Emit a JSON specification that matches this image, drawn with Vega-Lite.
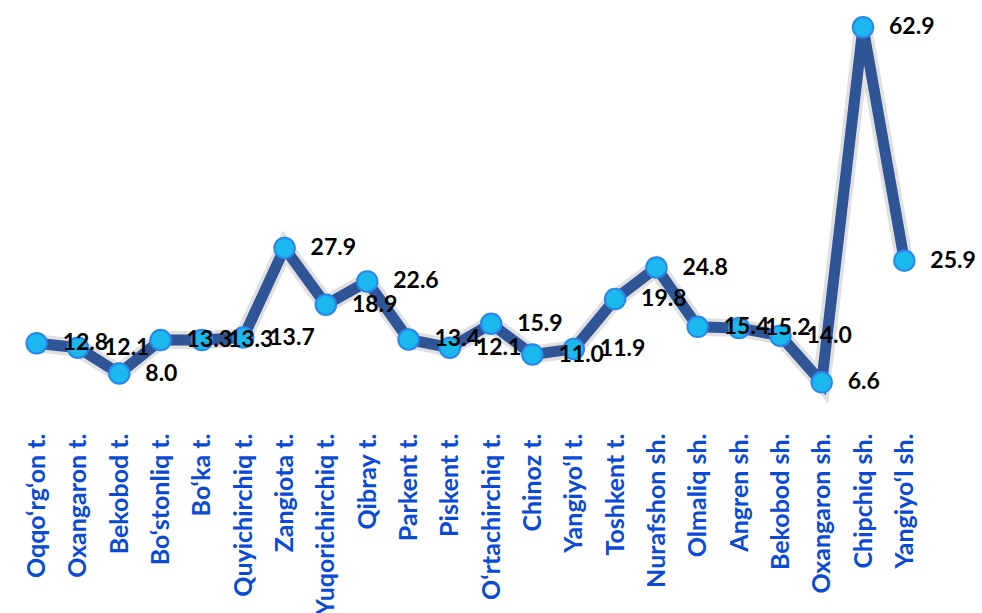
{
  "$schema": "https://vega.github.io/schema/vega-lite/v6.json",
  "autosize": {"type": "none"},
  "padding": {"left": 16, "top": 14, "right": 57, "bottom": 189},
  "width": 909,
  "height": 410,
  "background": "white",
  "config": {"view": {"stroke": null}},
  "data": {"values": [
    {"district": "Oqqo‘rg‘on t.", "value": 12.8},
    {"district": "Oxangaron t.", "value": 12.1},
    {"district": "Bekobod t.", "value": 8.0},
    {"district": "Bo‘stonliq t.", "value": 13.3},
    {"district": "Bo‘ka t.", "value": 13.3},
    {"district": "Quyichirchiq t.", "value": 13.7},
    {"district": "Zangiota t.", "value": 27.9},
    {"district": "Yuqorichirchiq t.", "value": 18.9},
    {"district": "Qibray t.", "value": 22.6},
    {"district": "Parkent t.", "value": 13.4},
    {"district": "Piskent t.", "value": 12.1},
    {"district": "O‘rtachirchiq t.", "value": 15.9},
    {"district": "Chinoz t.", "value": 11.0},
    {"district": "Yangiyo‘l t.", "value": 11.9},
    {"district": "Toshkent t.", "value": 19.8},
    {"district": "Nurafshon sh.", "value": 24.8},
    {"district": "Olmaliq sh.", "value": 15.4},
    {"district": "Angren sh.", "value": 15.2},
    {"district": "Bekobod sh.", "value": 14.0},
    {"district": "Oxangaron sh.", "value": 6.6},
    {"district": "Chipchiq sh.", "value": 62.9},
    {"district": "Yangiyo‘l sh.", "value": 25.9}
  ]},
  "encoding": {
    "x": {"field": "district", "type": "nominal", "sort": null,
      "scale": {"type": "point", "padding": 0.5},
      "axis": {"title": null, "domain": false, "ticks": false, "grid": false,
        "labelAngle": -90, "labelAlign": "right", "labelBaseline": "middle",
        "labelPadding": 9, "labelFont": "Lato", "labelFontSize": 25,
        "labelFontWeight": "bold", "labelColor": "#0A4AD4", "labelOverlap": false, "labelLimit": 400}},
    "y": {"field": "value", "type": "quantitative", "scale": {"domain": [0, 65], "nice": false, "zero": true}, "axis": null}
  },
  "layer": [
    {"mark": {"type": "line", "color": "#000000", "strokeWidth": 18, "opacity": 0.12, "strokeJoin": "miter"}},
    {"mark": {"type": "line", "color": "#2F5597", "strokeWidth": 11, "strokeJoin": "miter"}},
    {"mark": {"type": "point", "shape": "circle", "filled": true, "size": 420, "fill": "#1AB8EC", "stroke": "#2A86EA", "strokeWidth": 2, "opacity": 1}},
    {"mark": {"type": "text", "align": "left", "baseline": "middle", "dx": 26, "dy": 0, "font": "Lato", "fontSize": 23, "fontWeight": "bold", "color": "#000000"},
     "encoding": {"text": {"field": "value", "type": "quantitative", "format": ".1f"}}}
  ]
}
